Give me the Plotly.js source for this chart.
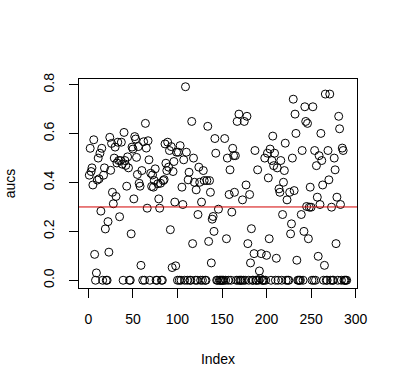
<!DOCTYPE html>
<html>
<head>
<meta charset="utf-8">
<script src="https://cdn.plot.ly/plotly-3.0.1.min.js"></script>
<style>html,body{margin:0;padding:0;background:#fff}#chart{width:397px;height:386px}</style>
</head>
<body>
<div id="chart"></div>
<script>
// aucs values in index order
const aucs = [
  0.43, 0.54, 0.445, 0.46, 0.39, 0.575, 0.106, 0, 0.03, 0.41,
  0.50, 0.415, 0.52, 0.283, 0.54, 0, 0.43, 0.46, 0.21, 0,
  0, 0.24, 0.115, 0.585, 0.45, 0.56, 0.36, 0.313, 0.50, 0.545,
  0.343, 0.48, 0.565, 0.49, 0.26, 0.49, 0.565, 0.475, 0, 0.605,
  0.49, 0.47, 0.385, 0.505, 0.46, 0, 0, 0.19, 0.545, 0.537,

  0.333, 0.588, 0.578, 0.503, 0.433, 0.547, 0.397, 0.385, 0.061, 0.449,
  0, 0.567, 0, 0.642, 0.541, 0.295, 0.571, 0.493, 0, 0.438,
  0.384, 0.431, 0.381, 0.408, 0.456, 0, 0, 0.395, 0.333, 0.295,
  0.397, 0, 0, 0.408, 0.412, 0.558, 0.479, 0.449, 0.565, 0.463,
  0.531, 0.207, 0.547, 0.052, 0.445, 0.486, 0.320, 0.059, 0.524, 0,

  0.524, 0, 0.551, 0, 0.381, 0.31, 0.493, 0, 0.792, 0.524,
  0, 0.411, 0.442, 0, 0, 0.65, 0.15, 0.50, 0.401, 0,
  0.370, 0, 0.269, 0.463, 0.401, 0, 0.32, 0, 0.449, 0.408,
  0, 0, 0.408, 0.63, 0.159, 0.408, 0.36, 0.071, 0.25, 0.261,
  0.2, 0.58, 0.52, 0, 0, 0.291, 0, 0, 0, 0,

  0, 0, 0.58, 0, 0.17, 0.50, 0, 0.351, 0.452, 0,
  0.279, 0.54, 0.51, 0.36, 0.51, 0, 0.65, 0, 0.68, 0,
  0, 0, 0.329, 0, 0.65, 0, 0.39, 0.671, 0.15, 0,
  0.351, 0.071, 0.211, 0, 0, 0.109, 0.531, 0, 0, 0.452,
  0, 0.038, 0.007, 0.109, 0, 0, 0, 0.50, 0, 0.102,

  0.52, 0.419, 0.17, 0.537, 0, 0.49, 0.59, 0.469, 0.52, 0,
  0.09, 0.46, 0, 0.374, 0.36, 0.49, 0, 0.269, 0.401, 0.449,
  0.561, 0, 0.329, 0, 0, 0.36, 0.19, 0.231, 0.50, 0.741,
  0.367, 0.68, 0.601, 0.082, 0, 0, 0, 0, 0.269, 0.531,
  0, 0.2, 0.71, 0.65, 0.302, 0.642, 0.17, 0.299, 0.381, 0.299,

  0, 0.71, 0, 0.531, 0, 0.469, 0.34, 0.098, 0.51, 0.31,
  0.601, 0.49, 0.39, 0, 0.061, 0.762, 0, 0, 0.531, 0.411,
  0.762, 0, 0.299, 0, 0, 0.50, 0.452, 0.15, 0.34, 0,
  0.671, 0.62, 0.31, 0, 0.541, 0.531, 0, 0, 0, 0
];
const threshold = 0.3;
const xTicks = [0, 50, 100, 150, 200, 250, 300];
const yTicks = [0.0, 0.2, 0.4, 0.6, 0.8];
const yTickText = ['0.0', '0.2', '0.4', '0.6', '0.8'];

const index = aucs.map((_, i) => i + 1);
const n = aucs.length;
const ymax = Math.max(...aucs);
const xr = [1 - 0.04 * (n - 1), n + 0.04 * (n - 1)];
const yr = [0 - 0.04 * ymax, ymax + 0.04 * ymax];

const font = {family: 'Liberation Sans, Arial, sans-serif', size: 14, color: '#000'};

const trace = {
  x: index, y: aucs, type: 'scatter', mode: 'markers',
  marker: {symbol: 'circle-open', size: 8, color: '#000', line: {width: 1, color: '#000'}},
  hoverinfo: 'x+y'
};

const layout = {
  width: 397, height: 386,
  margin: {l: 79, r: 40, t: 79, b: 98},
  paper_bgcolor: '#fff', plot_bgcolor: '#fff',
  showlegend: false,
  font: font,
  xaxis: {
    range: xr, tickvals: xTicks, ticktext: xTicks.map(String),
    showgrid: false, zeroline: false,
    showline: true, mirror: true, linecolor: '#000', linewidth: 1,
    ticks: 'outside', ticklen: 9, tickwidth: 1, tickcolor: '#000',
    ticklabelstandoff: 9,
    tickfont: font,
    title: {text: 'Index', font: font, standoff: 28}
  },
  yaxis: {
    range: yr, tickvals: yTicks, ticktext: yTickText,
    showgrid: false, zeroline: false,
    showline: true, mirror: true, linecolor: '#000', linewidth: 1,
    ticks: 'outside', ticklen: 9, tickwidth: 1, tickcolor: '#000',
    tickangle: -90, ticklabelstandoff: 9,
    tickfont: font,
    title: {text: 'aucs', font: font, standoff: 22}
  },
  shapes: [{
    type: 'line', xref: 'paper', x0: 0, x1: 1, yref: 'y', y0: threshold, y1: threshold,
    line: {color: '#d40000', width: 1}
  }]
};

Plotly.newPlot('chart', [trace], layout, {displayModeBar: false, staticPlot: true});
</script>
</body>
</html>
